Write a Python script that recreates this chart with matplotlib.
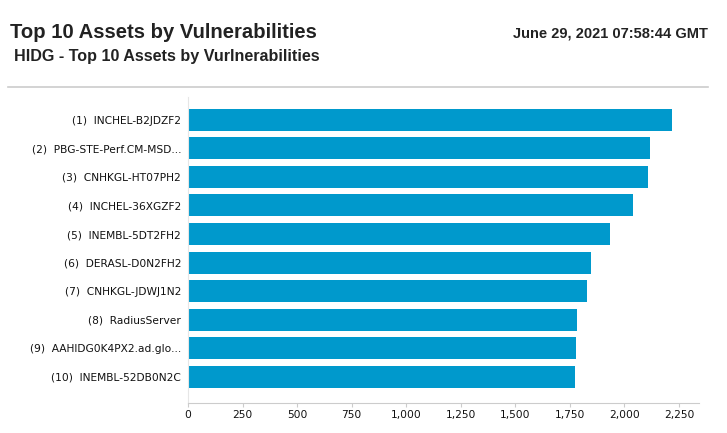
import matplotlib
matplotlib.use("Agg")
import matplotlib.pyplot as plt
from matplotlib.ticker import FuncFormatter, MultipleLocator
from matplotlib.lines import Line2D

labels = ["(1)  INCHEL-B2JDZF2", "(2)  PBG-STE-Perf.CM-MSD...", "(3)  CNHKGL-HT07PH2",
          "(4)  INCHEL-36XGZF2", "(5)  INEMBL-5DT2FH2", "(6)  DERASL-D0N2FH2",
          "(7)  CNHKGL-JDWJ1N2", "(8)  RadiusServer", "(9)  AAHIDG0K4PX2.ad.glo...",
          "(10)  INEMBL-52DB0N2C"]
values = [2218, 2117, 2108, 2039, 1934, 1847, 1829, 1783, 1778, 1774]

title = "Top 10 Assets by Vulnerabilities"
subtitle = "HIDG - Top 10 Assets by Vurlnerabilities"
date_text = "June 29, 2021 07:58:44 GMT"

W, H = 727, 433
fig = plt.figure(figsize=(W/100, H/100), dpi=100)
ax = fig.add_axes([188/W, 1-403/H, (699-188)/W, (403-97)/H])

pos = list(range(len(labels)))
ax.barh(pos, values, height=0.77, color="#0099CC")
ax.set_yticks(pos)
ax.set_yticklabels(labels, fontsize=7.7, color="#111111", family="DejaVu Sans")
ax.set_ylim(9.92, -0.8)
ax.set_xlim(0, 2342)
ax.xaxis.set_major_locator(MultipleLocator(250))
ax.xaxis.set_major_formatter(FuncFormatter(lambda v, p: f"{int(v):,}"))
for lab in ax.get_xticklabels():
    lab.set_fontsize(7.7)
    lab.set_color("#111111")
ax.tick_params(axis="y", length=0, pad=5)
ax.tick_params(axis="x", length=3, color="#cccccc", width=0.8, pad=2)
for s in ["top", "right"]:
    ax.spines[s].set_visible(False)
ax.spines["left"].set_color("#e6e6e6")
ax.spines["bottom"].set_color("#cccccc")
ax.spines["left"].set_linewidth(0.8)
ax.spines["bottom"].set_linewidth(0.8)

fig.text(10/W, 1-33/H, title, fontsize=14.6, fontweight="bold", family="Liberation Sans",
         color="#222222", va="center", ha="left")
fig.text(14/W, 1-56/H, subtitle, fontsize=11.6, fontweight="bold", family="Liberation Sans",
         color="#222222", va="center", ha="left")
fig.text(708/W, 1-33/H, date_text, fontsize=10.5, fontweight="bold", family="Liberation Sans",
         color="#222222", va="center", ha="right")
fig.add_artist(Line2D([8/W, 708/W], [1-87/H, 1-87/H], color="#cccccc", linewidth=1.2,
                      transform=fig.transFigure))

fig.savefig("out.png", dpi=100)
